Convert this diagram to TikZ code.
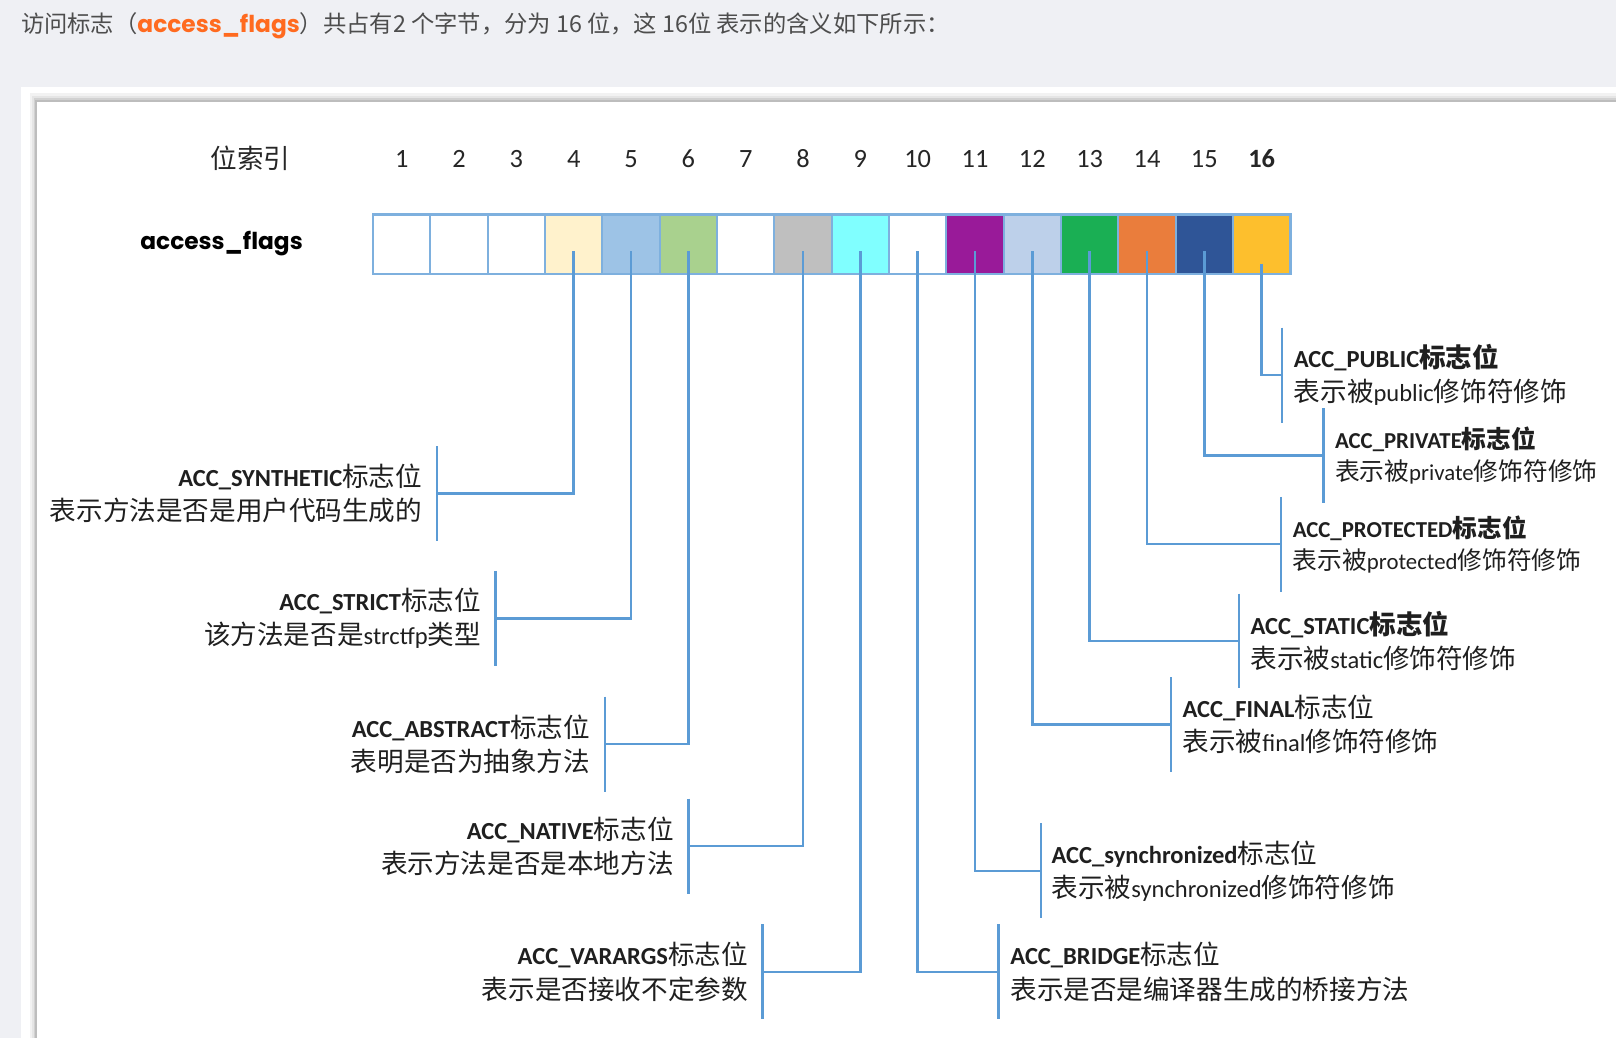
\documentclass[tikz,border=0pt]{standalone}
\usepackage{fontspec}
\setmainfont{Carlito}
\newfontfamily\cjk{Noto Sans CJK SC}
\newfontfamily\popp{Poppins}
\usetikzlibrary{calc}
\definecolor{bg}{HTML}{EFF0F4}
\definecolor{ln}{HTML}{5B9BD5}
\definecolor{cb}{HTML}{7EB0DE}
\definecolor{tgray}{HTML}{4D4D4D}
\definecolor{torange}{HTML}{FF6A1F}
\definecolor{k4}{HTML}{FFF2CC}
\definecolor{k5}{HTML}{9DC3E6}
\definecolor{k6}{HTML}{A9D18E}
\definecolor{k8}{HTML}{BFBFBF}
\definecolor{k9}{HTML}{80FFFF}
\definecolor{k11}{HTML}{991A99}
\definecolor{k12}{HTML}{BDD0EA}
\definecolor{k13}{HTML}{1AAF54}
\definecolor{k14}{HTML}{EA7D3C}
\definecolor{k15}{HTML}{2F5597}
\definecolor{k16}{HTML}{FDBF2D}
\definecolor{kw}{HTML}{FFFFFF}
\newcommand\zhs[1]{{\fontsize{12.9}{16.6}\selectfont\cjk #1}}
\begin{document}
\begin{tikzpicture}[x=0.5pt,y=-0.5pt,
  cell/.style={draw=cb, line width=1pt, minimum width=27.81pt, minimum height=29pt, inner sep=0pt, outer sep=0pt},
  conn/.style={draw=ln, line width=1.25pt},
  labl/.style={font=\fontsize{11.9}{16.6}\selectfont, inner sep=0pt, text=black!88},
  smaller/.style={scale=0.93, transform shape},
  num/.style={font=\fontsize{12.8}{14}\selectfont, inner sep=0pt, text=black!85}]
\useasboundingbox (0,0) rectangle (1568,1007);
% background and panels
\fill[bg] (0,0) rectangle (1568,1007);
\fill[white] (20,84) rectangle (1568,1007);
\fill[black!5] (29,90) rectangle (1568,1007);
\fill[black!10] (31,93) rectangle (1568,1007);
\fill[black!18] (33,95) rectangle (1568,1007);
\fill[black!26] (34,97) rectangle (1568,1007);
\fill[white] (36,99) rectangle (1568,1007);
% title
\node[anchor=west, inner sep=0pt, text=tgray, font=\fontsize{11.3}{14}\selectfont\cjk] (title) at (20,25)
  {访问标志（{\popp\color{torange}\fontseries{sb}\selectfont access\_flags}）共占有2 个字节，分为 16 位，这 16位 表示的含义如下所示：};
% header
\node[num] (idx) at (243,154) {\zhs{位索引}};
\foreach \i in {1,...,15} {
  \node[num] (n\i) at ({362+55.625*(\i-0.5)},154) {\i};
}
\node[num, font=\fontsize{12.8}{14}\selectfont\bfseries] (n16) at ({362+55.625*15.5},154) {16};
\node[inner sep=0pt, font=\fontsize{11.3}{14}\selectfont\popp\bfseries] (af) at (215,236) {access\_flags};
% cells
\foreach \i/\c in {1/kw,2/kw,3/kw,4/k4,5/k5,6/k6,7/kw,8/k8,9/k9,10/kw,11/k11,12/k12,13/k13,14/k14,15/k15,16/k16} {
  \node[cell, fill=\c] (c\i) at ({362+55.625*(\i-0.5)},237) {};
}
\draw[cb, line width=1.2pt] (c1.north west) rectangle (c16.south east);
% brackets and connectors
\foreach \i/\by/\bx in {4/479/424,5/600/481,6/722/587,8/821/668,9/943/740,10/943/969,11/845/1010,12/703/1136,13/622/1202,14/528/1243,15/442/1284} {
  \coordinate (k\i) at (\bx,\by);
  \coordinate (t\i) at (\bx,\by-46);
  \coordinate (b\i) at (\bx,\by+46);
  \draw[conn] ([yshift=-3.5pt]c\i.center) |- (k\i);
  \draw[conn] (t\i) -- (b\i);
}
\coordinate (k16) at (1244,364);
\coordinate (t16) at (1244,318);
\coordinate (b16) at (1244,410);
\draw[conn] ([yshift=-9.5pt]c16.center) |- (k16);
\draw[conn] (t16) -- (b16);
% labels left
\node[labl, anchor=east, align=right] (l4) at ([xshift=-7pt]k4)
  {\textbf{ACC\_SYNTHETIC}\zhs{标志位}\\\zhs{表示方法是否是用户代码生成的}};
\node[labl, anchor=east, align=right] (l5) at ([xshift=-7pt]k5)
  {\textbf{ACC\_STRICT}\zhs{标志位}\\\zhs{该方法是否是}strctfp\zhs{类型}};
\node[labl, anchor=east, align=right] (l6) at ([xshift=-7pt]k6)
  {\textbf{ACC\_ABSTRACT}\zhs{标志位}\\\zhs{表明是否为抽象方法}};
\node[labl, anchor=east, align=right] (l8) at ([xshift=-7pt]k8)
  {\textbf{ACC\_NATIVE}\zhs{标志位}\\\zhs{表示方法是否是本地方法}};
\node[labl, anchor=east, align=right] (l9) at ([xshift=-7pt]k9)
  {\textbf{ACC\_VARARGS}\zhs{标志位}\\\zhs{表示是否接收不定参数}};
% labels right
\node[labl, anchor=west, align=left] (l10) at ([xshift=5.5pt]k10)
  {\textbf{ACC\_BRIDGE}\zhs{标志位}\\\zhs{表示是否是编译器生成的桥接方法}};
\node[labl, anchor=west, align=left] (l11) at ([xshift=5pt]k11)
  {\textbf{ACC\_synchronized}\zhs{标志位}\\\zhs{表示被}synchronized\zhs{修饰符修饰}};
\node[labl, anchor=west, align=left] (l12) at ([xshift=5.5pt]k12)
  {\textbf{ACC\_FINAL}\zhs{标志位}\\\zhs{表示被}final\zhs{修饰符修饰}};
\node[labl, anchor=west, align=left] (l13) at ([xshift=5.5pt]k13)
  {\textbf{ACC\_STATIC\zhs{标志位}}\\\zhs{表示被}static\zhs{修饰符修饰}};
\node[labl, smaller, anchor=west, align=left] (l14) at ([xshift=5.5pt]k14)
  {\textbf{ACC\_PROTECTED\zhs{标志位}}\\\zhs{表示被}protected\zhs{修饰符修饰}};
\node[labl, smaller, anchor=west, align=left] (l15) at ([xshift=5.5pt]k15)
  {\textbf{ACC\_PRIVATE\zhs{标志位}}\\\zhs{表示被}private\zhs{修饰符修饰}};
\node[labl, anchor=west, align=left] (l16) at ([xshift=5.5pt]k16)
  {\textbf{ACC\_PUBLIC\zhs{标志位}}\\\zhs{表示被}public\zhs{修饰符修饰}};
\end{tikzpicture}
\end{document}
